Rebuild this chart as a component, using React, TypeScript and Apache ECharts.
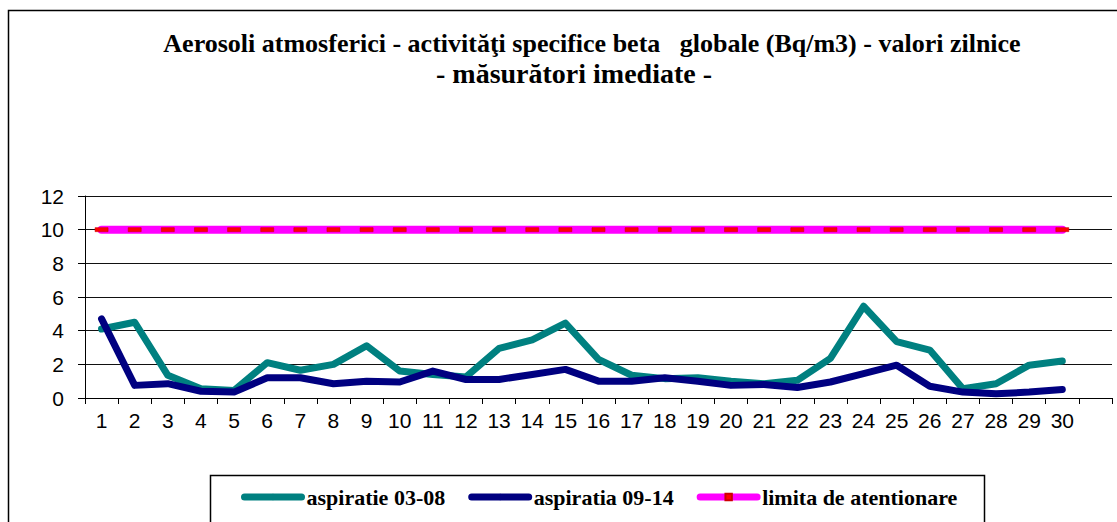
import React, { useEffect, useRef } from "react";
import * as echarts from "echarts";

const days = ["1","2","3","4","5","6","7","8","9","10","11","12","13","14","15","16","17","18","19","20","21","22","23","24","25","26","27","28","29","30",""];
const aspiratie0308 = [4.1,4.5,1.35,0.55,0.45,2.1,1.65,2.0,3.1,1.6,1.4,1.25,2.95,3.45,4.45,2.3,1.35,1.15,1.2,1.0,0.85,1.05,2.35,5.45,3.35,2.85,0.55,0.85,1.95,2.2];
const aspiratia0914 = [4.7,0.75,0.85,0.4,0.35,1.2,1.2,0.85,1.0,0.95,1.6,1.1,1.1,1.4,1.7,1.0,1.0,1.2,1.0,0.75,0.8,0.62,0.95,1.45,1.95,0.7,0.35,0.25,0.35,0.5];
const limita = [10,10,10,10,10,10,10,10,10,10,10,10,10,10,10,10,10,10,10,10,10,10,10,10,10,10,10,10,10,10];
const seriesNames = ["aspiratie 03-08", "aspiratia 09-14", "limita de atentionare"];
const titleLine1 = "Aerosoli atmosferici - activităţi specifice beta   globale (Bq/m3) - valori zilnice";
const titleLine2 = "- măsurători imediate -";

export default function App() {
  const ref = useRef<HTMLDivElement>(null);
  useEffect(() => {
    if (!ref.current) return;
    const chart = echarts.init(ref.current, null, { renderer: "svg" });
    const serif = "'Liberation Serif', 'Times New Roman', serif";
    const sans = "'Liberation Sans', Arial, sans-serif";
    chart.setOption({
      animation: false,
      backgroundColor: "#fff",
      title: [
        {
          text: titleLine1,
          left: 587,
          top: 25,
          textAlign: "center",
          textStyle: { fontFamily: serif, fontWeight: "bold", fontSize: 26, color: "#000" },
        },
        {
          text: titleLine2,
          left: 569,
          top: 54,
          textAlign: "center",
          textStyle: { fontFamily: serif, fontWeight: "bold", fontSize: 28, color: "#000" },
        },
      ],
      graphic: [
        {
          type: "rect",
          shape: { x: 8.5, y: 10.5, width: 1300, height: 700 },
          style: { fill: "none", stroke: "#000", lineWidth: 1.5 },
          silent: true,
          z: 0,
        },
        {
          type: "rect",
          shape: { x: 210.5, y: 475.5, width: 774, height: 100 },
          style: { fill: "#fff", stroke: "#000", lineWidth: 1.5 },
          silent: true,
          z: 0,
        },
      ],
      legend: {
        left: 241,
        top: 486,
        itemWidth: 57,
        itemHeight: 8,
        itemGap: 23,
        padding: 0,
        z: 10,
        textStyle: { fontFamily: serif, fontWeight: "bold", fontSize: 22, color: "#000" },
        lineStyle: { width: 7, cap: "round" },
        data: seriesNames,
      },
      grid: { left: 85, right: 5, top: 196, height: 202, containLabel: false },
      xAxis: {
        type: "category",
        data: days,
        boundaryGap: true,
        axisLine: { lineStyle: { color: "#000", width: 1 } },
        axisTick: { show: true, length: 6, lineStyle: { color: "#000" } },
        axisLabel: { fontFamily: sans, fontSize: 21, color: "#000", margin: 12, interval: 0 },
        splitLine: { show: false },
      },
      yAxis: {
        type: "value",
        min: 0,
        max: 12,
        interval: 2,
        axisLine: { show: true, lineStyle: { color: "#000", width: 1 } },
        axisTick: { show: true, length: 7, lineStyle: { color: "#000" } },
        axisLabel: { fontFamily: sans, fontSize: 21, color: "#000", margin: 21 },
        splitLine: { show: true, lineStyle: { color: "#111", width: 1.2 } },
      },
      series: [
        {
          name: seriesNames[0],
          type: "line",
          data: aspiratie0308,
          symbol: "none",
          color: "#008080",
          lineStyle: { color: "#008080", width: 7, cap: "round", join: "round" },
          z: 3,
        },
        {
          name: seriesNames[1],
          type: "line",
          data: aspiratia0914,
          symbol: "none",
          color: "#000080",
          lineStyle: { color: "#000080", width: 7, cap: "round", join: "round" },
          z: 4,
        },
        {
          name: seriesNames[2],
          type: "line",
          data: limita,
          symbol: "rect",
          symbolSize: [13, 4],
          showSymbol: true,
          color: "#FF00FF",
          itemStyle: { color: "#FF0000", borderColor: "#CC0000", borderWidth: 0.5 },
          lineStyle: { color: "#FF00FF", width: 8, cap: "round" },
          z: 5,
        },
      ],
    });
    return () => chart.dispose();
  }, []);
  return <div ref={ref} style={{ position: "fixed", left: 0, top: 0, width: 1117, height: 522 }} />;
}
